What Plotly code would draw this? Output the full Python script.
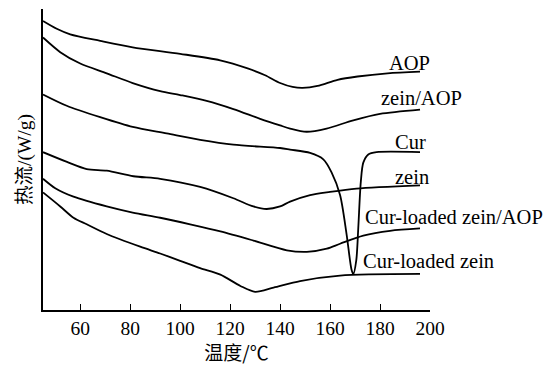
import plotly.graph_objects as go

# Temperature (°C) and heat flow (arbitrary units)
aop_T = [45.1, 50.6, 56, 68, 81, 100, 116, 127, 134, 140, 145, 149, 155, 163, 171, 183, 196]
aop_H = [296.7, 288.7, 283, 276.3, 269.7, 263, 256.3, 248, 241, 233, 229, 228, 230, 236.3, 239.7, 243, 244.7]

zeinaop_T = [45.1, 52, 60, 70.6, 81, 92, 100, 110.6, 121.3, 132, 140, 144, 150.6, 158.6, 169.3, 180, 196]
zeinaop_H = [279.7, 264.7, 253, 243, 233, 224.7, 220.7, 214.7, 206.3, 196.3, 189.5, 186.3, 183, 186.3, 194.7, 201.3, 205.7]

cur_T = [45.1, 54.6, 68, 81, 94.6, 108, 121.3, 140, 144, 152, 157.3, 160.6, 164, 166.6, 168.6, 169.3, 170.5, 171.3, 172.3, 173.3, 175.3, 178.6, 196]
cur_H = [221.3, 209.7, 198, 188, 181.3, 174.7, 169.7, 166.3, 164.7, 161.3, 154.7, 141.3, 118, 78, 41.3, 37, 51.3, 84.7, 131.3, 151.3, 159.7, 162, 162]

zein_T = [45.1, 54.7, 62.6, 70.6, 81.3, 92, 108, 121.3, 129.3, 134.6, 140, 144, 152, 160, 170.6, 196]
zein_H = [162, 152, 144.7, 143, 137.3, 134.7, 126.3, 114.7, 106.3, 103.7, 106.3, 111.3, 118, 121.3, 124.7, 128]

clza_T = [45.1, 50, 57.3, 70.6, 81, 92, 104, 116.1, 129.3, 142.7, 150.7, 158.7, 164, 173.3, 184, 196]
clza_H = [134.7, 125, 116.3, 106.3, 100, 94.7, 88, 80.7, 71.3, 61.3, 59.7, 63, 68, 76.3, 81.3, 83.7]

clz_T = [45.1, 52, 57.3, 62.6, 70.6, 84, 92, 100, 108, 116.1, 124.1, 130, 137.4, 148, 164, 196]
clz_H = [120.7, 106.3, 94.7, 88, 78, 65, 58, 50.5, 43, 36.3, 24.7, 18.7, 23, 29.7, 35.3, 37]

series = [
    ("AOP", aop_T, aop_H),
    ("zein/AOP", zeinaop_T, zeinaop_H),
    ("Cur", cur_T, cur_H),
    ("zein", zein_T, zein_H),
    ("Cur-loaded zein/AOP", clza_T, clza_H),
    ("Cur-loaded zein", clz_T, clz_H),
]

# label anchor positions (data coords, left edge / middle)
label_pos = {
    "AOP": (182.9, 253.5),
    "zein/AOP": (179.7, 217.5),
    "Cur": (185.1, 172.2),
    "zein": (185.3, 136.4),
    "Cur-loaded zein/AOP": (173.1, 95.5),
    "Cur-loaded zein": (172.3, 50.5),
}

tick_vals = [60, 80, 100, 120, 140, 160, 180, 200]

FONT = "Liberation Serif, Times New Roman, Noto Sans CJK SC, serif"

fig = go.Figure()
for name, T, H in series:
    fig.add_trace(go.Scatter(
        x=T, y=H, mode="lines", name=name,
        line=dict(color="black", width=1.8, shape="spline", smoothing=0.8),
        showlegend=False, hoverinfo="skip",
    ))
    lx, ly = label_pos[name]
    fig.add_annotation(x=lx, y=ly, xref="x", yref="y", text=name,
                       showarrow=False, xanchor="left", yanchor="middle",
                       font=dict(family=FONT, size=20.5, color="black"))

fig.update_layout(
    width=554, height=365,
    margin=dict(l=42.7, r=124, t=9, b=47),
    paper_bgcolor="white", plot_bgcolor="white",
    font=dict(family=FONT, color="black", size=19),
    xaxis=dict(
        range=[45.1, 200], tickvals=tick_vals, ticktext=[str(v) for v in tick_vals],
        showline=True, linecolor="black", linewidth=1.5,
        ticks="inside", ticklen=6, tickwidth=1.3, tickcolor="black",
        showgrid=False, zeroline=False,
        tickfont=dict(family=FONT, size=19.5),
        title=dict(text="温度/℃", font=dict(family="Noto Sans CJK SC", size=19), standoff=4),
    ),
    yaxis=dict(
        range=[0, 309], showline=True, linecolor="black", linewidth=1.5,
        showticklabels=False, ticks="", showgrid=False, zeroline=False,
        title=dict(text="热流/(W/g)", font=dict(family=FONT, size=19.5), standoff=4),
    ),
)

fig.write_html("out.html")
